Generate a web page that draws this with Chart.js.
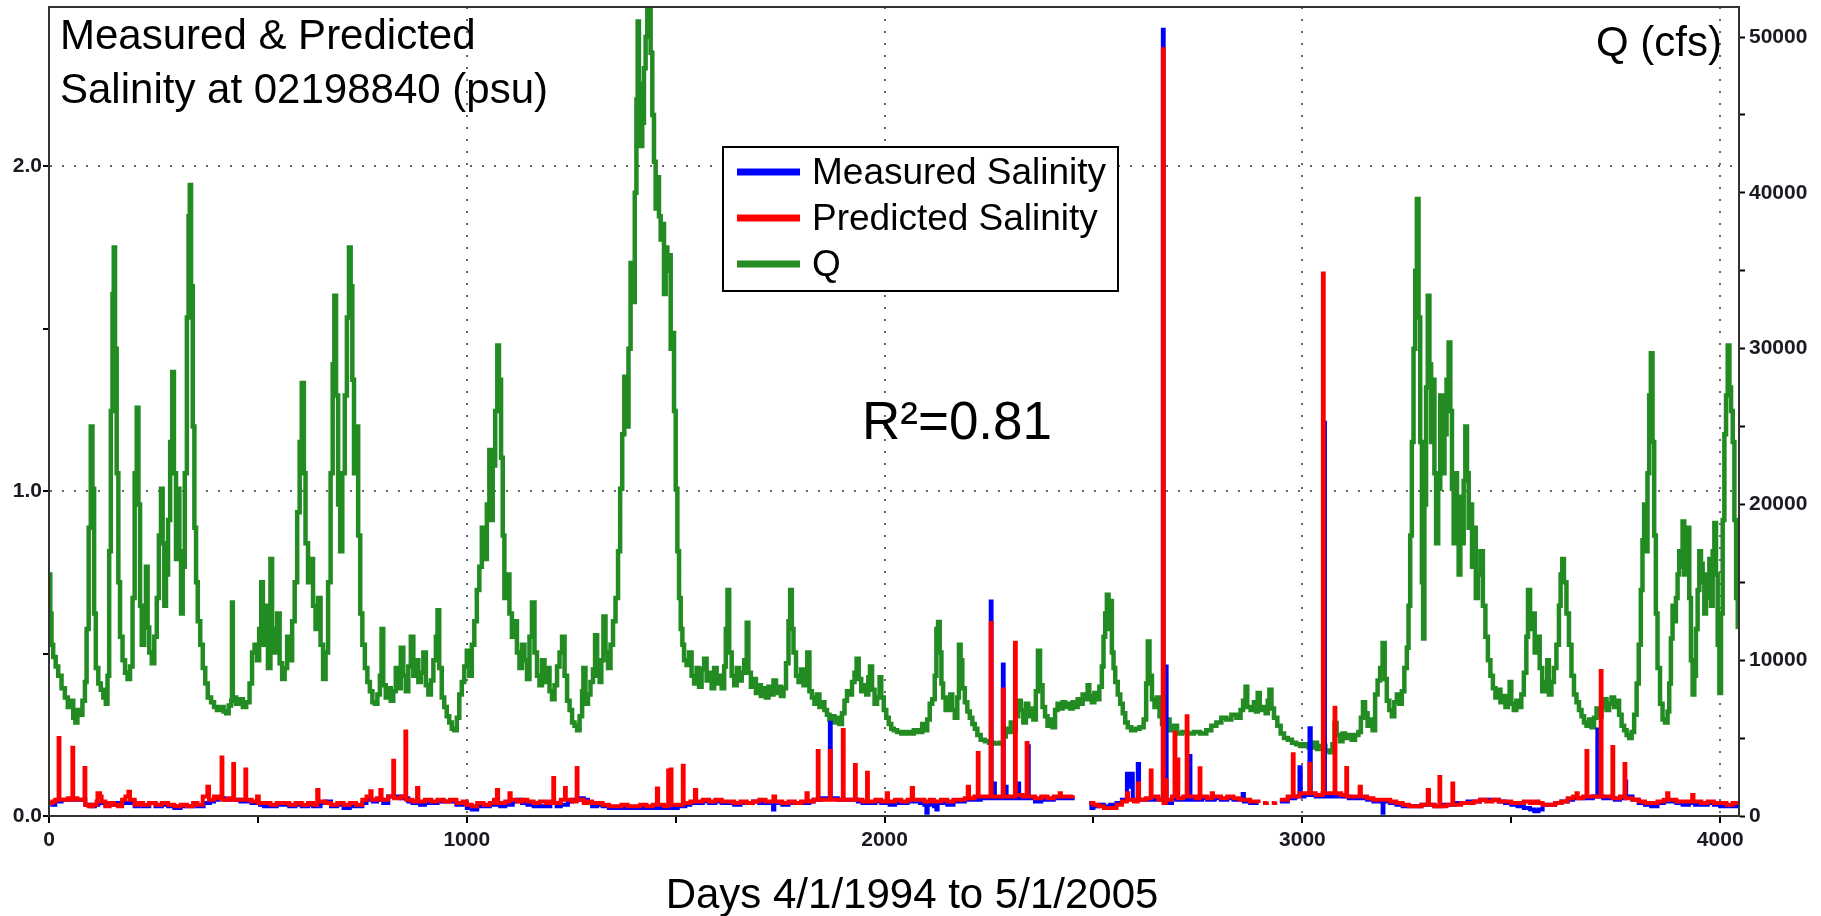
<!DOCTYPE html>
<html>
<head>
<meta charset="utf-8">
<script src="https://cdn.jsdelivr.net/npm/chart.js@4.4.0/dist/chart.umd.min.js"></script>
<style>
  html, body { margin: 0; padding: 0; background: #fff; }
  #wrap { width: 1821px; height: 916px; position: relative; }
</style>
</head>
<body>
<div id="wrap"><canvas id="salChart"></canvas></div>
<script>
// Q (cfs), [day, cfs]
var qFlow = [
  [0,15500],[3,13000],[6,11000],[10,10200],[16,9600],[22,9000],[30,8200],[38,7600],[45,7000],[52,7400],
  [58,6300],[63,6000],[68,6800],[74,6500],[80,7400],[86,8600],[90,12000],[95,18500],[100,25000],[104,21000],
  [108,13000],[112,9500],[118,8500],[124,8100],[130,7600],[136,7200],[140,9000],[144,17000],[148,26000],[152,33500],
  [155,36500],[158,30000],[162,22000],[166,15000],[170,11500],[176,10000],[182,9200],[188,8800],[194,9600],[200,14000],
  [205,22000],[210,26200],[214,20000],[218,13500],[222,11000],[228,12500],[232,16000],[236,12100],[240,10500],[246,9800],
  [252,11500],[258,14000],[263,18000],[268,21000],[272,17500],[276,13500],[280,15500],[285,19000],[290,24000],[295,28500],
  [299,22000],[304,16500],[308,21000],[312,17000],[316,13000],[320,16000],[325,22000],[330,32000],[334,38500],[337,40500],
  [340,34000],[344,25000],[348,18500],[352,15000],[356,12500],[362,11000],[368,9500],[374,8500],[380,7600],[388,7300],
  [395,7000],[402,6800],[410,7000],[418,6700],[424,6600],[430,7100],[436,7400],[438,13700],[440,7600],[448,7200],
  [456,7500],[464,7000],[472,7300],[480,8500],[486,10500],[492,11000],[498,10000],[503,12000],[508,15000],[512,11000],
  [518,13500],[524,9500],[530,16500],[534,12000],[540,10500],[546,13000],[552,9800],[558,8800],[564,9500],[570,11500],
  [576,10000],[582,12500],[588,15000],[594,19500],[600,24000],[605,27800],[610,22000],[614,17500],[620,15000],[626,16500],
  [632,13500],[638,12000],[644,14000],[650,11000],[656,8800],[662,10500],[668,15000],[674,22000],[679,29000],[683,33400],
  [687,27000],[692,20000],[697,17000],[702,22000],[708,27000],[713,32000],[718,36500],[722,34000],[726,28000],[730,22000],
  [735,25000],[740,18000],[745,13000],[750,11000],[756,9500],[762,8600],[768,8000],[774,7300],[780,7200],[786,7800],
  [792,9000],[796,12000],[800,8400],[806,7600],[812,8200],[818,7400],[824,8000],[830,9500],[836,8200],[842,10800],
  [848,9000],[854,8000],[860,9600],[866,11500],[872,9000],[878,10000],[884,8600],[890,9200],[896,10500],[902,8400],
  [908,7800],[914,8700],[920,10000],[926,11500],[930,13200],[934,9500],[940,7600],[946,7000],[952,6400],[958,6000],
  [964,5600],[970,5500],[976,6300],[982,7800],[988,8600],[994,9600],[1000,10600],[1006,9000],[1012,11000],[1018,12500],
  [1024,14500],[1030,16000],[1036,18500],[1042,16500],[1048,20000],[1054,23500],[1058,19000],[1062,22500],[1068,26000],[1073,30200],
  [1077,28000],[1082,23000],[1086,18000],[1090,14000],[1096,15500],[1102,13000],[1108,11500],[1114,12500],[1120,10500],[1126,9500],
  [1132,11000],[1138,10000],[1144,8800],[1150,11500],[1156,13700],[1162,10500],[1168,9000],[1174,8400],[1180,10000],[1186,8600],
  [1192,9500],[1198,8000],[1204,7500],[1210,8400],[1216,9600],[1222,10500],[1228,11500],[1234,9000],[1240,7400],[1246,6800],
  [1252,6000],[1258,5800],[1264,5500],[1270,6400],[1276,8000],[1279,9500],[1284,7200],[1290,7800],[1296,8600],[1302,9400],
  [1307,11600],[1312,9000],[1318,8600],[1322,10000],[1327,12800],[1332,10500],[1338,9500],[1344,11000],[1350,12500],[1356,14000],
  [1362,17000],[1367,21000],[1372,24500],[1377,28200],[1382,25000],[1387,30000],[1392,35500],[1397,33000],[1402,40000],[1406,46000],
  [1409,51000],[1412,47000],[1416,43000],[1420,44500],[1424,48000],[1428,50000],[1432,51900],[1436,51900],[1440,49000],[1444,45000],
  [1448,42000],[1452,39000],[1456,41000],[1460,38500],[1464,37000],[1468,38000],[1472,33500],[1476,36500],[1480,35000],[1484,36000],
  [1488,30000],[1492,31000],[1496,26000],[1500,21000],[1504,17000],[1508,14000],[1512,12000],[1516,11000],[1520,10000],[1526,9700],
  [1532,10500],[1538,9000],[1544,8500],[1550,9500],[1556,8300],[1562,9400],[1568,10100],[1574,8700],[1580,9200],[1586,8200],
  [1592,9500],[1598,8500],[1604,9000],[1610,8200],[1616,9600],[1620,12000],[1624,14500],[1628,10500],[1634,9000],[1640,8400],
  [1646,9500],[1652,8700],[1658,9200],[1664,10000],[1670,12400],[1674,9200],[1680,8300],[1686,8800],[1692,7900],[1698,8400],
  [1704,7700],[1710,8200],[1716,7600],[1722,8300],[1728,7800],[1734,8700],[1740,7900],[1746,8300],[1752,7700],[1758,8200],
  [1764,9800],[1770,12500],[1774,14500],[1778,12000],[1782,10500],[1788,9000],[1794,8600],[1800,9400],[1806,8400],[1812,9200],
  [1815,10500],[1820,8000],[1826,7600],[1832,7200],[1838,7800],[1844,7000],[1850,7300],[1856,6800],[1862,6500],[1868,6200],
  [1874,6400],[1880,6000],[1886,6300],[1892,5900],[1898,6600],[1904,7400],[1910,8000],[1916,7800],[1922,8600],[1928,9200],
  [1933,10100],[1938,8800],[1944,8000],[1950,8400],[1956,7800],[1961,8900],[1965,9600],[1970,8100],[1976,7200],[1982,7600],
  [1988,8900],[1992,7600],[1998,6800],[2004,6300],[2010,5900],[2016,5600],[2022,5500],[2030,5400],[2040,5300],[2050,5400],
  [2060,5300],[2070,5500],[2080,5400],[2090,5900],[2096,5500],[2102,6200],[2108,7200],[2114,7500],[2120,9000],[2124,12000],
  [2128,12450],[2132,10500],[2136,8500],[2140,7600],[2146,6800],[2152,7400],[2157,7800],[2162,6800],[2168,6300],[2174,7600],
  [2178,11000],[2182,10000],[2186,8200],[2192,7300],[2198,6700],[2204,6300],[2210,5900],[2216,5600],[2222,5200],[2230,4900],
  [2240,4800],[2250,4700],[2262,4650],[2276,4700],[2284,5100],[2290,5600],[2296,5400],[2302,6000],[2308,5500],[2314,6400],
  [2320,7400],[2326,6800],[2332,6000],[2338,7200],[2344,6400],[2350,6900],[2356,6200],[2362,8000],[2367,10600],[2372,8400],
  [2378,7000],[2384,6400],[2390,5800],[2396,6200],[2402,5700],[2408,6800],[2414,7200],[2420,6900],[2426,7300],[2432,7000],
  [2438,7200],[2444,6900],[2450,7300],[2456,7000],[2462,7500],[2468,7200],[2474,7800],[2480,7500],[2486,8400],[2490,7700],
  [2496,7300],[2502,7900],[2508,7500],[2514,8300],[2520,9600],[2524,11500],[2528,13000],[2532,14200],[2536,12000],[2540,13800],
  [2544,10500],[2548,9500],[2552,8600],[2558,7800],[2564,7200],[2570,6600],[2576,6000],[2582,5700],[2590,5500],[2600,5600],
  [2610,5700],[2620,6200],[2626,8500],[2630,11200],[2634,9000],[2640,7500],[2646,7000],[2652,7600],[2658,6400],[2664,5900],
  [2670,5600],[2676,6200],[2682,5500],[2690,5800],[2700,5300],[2712,5400],[2725,5300],[2740,5400],[2755,5300],[2770,5500],
  [2782,5800],[2794,6000],[2806,6300],[2818,6200],[2830,6500],[2842,6300],[2852,6800],[2858,7400],[2864,8300],[2868,7000],
  [2876,6800],[2884,7300],[2889,6700],[2893,7900],[2898,6800],[2906,7000],[2912,6600],[2917,7400],[2921,8100],[2926,6900],
  [2932,6300],[2940,5800],[2948,5300],[2956,5000],[2965,4900],[2975,4700],[2985,4600],[2995,4500],[3005,4600],[3015,4400],
  [3025,4700],[3035,4300],[3045,4500],[3055,4200],[3065,4100],[3072,4600],[3077,5970],[3082,5200],[3090,4800],[3096,5300],
  [3102,5000],[3110,5200],[3118,4900],[3126,5200],[3134,5400],[3140,6300],[3145,7300],[3150,6600],[3156,5800],[3162,6200],
  [3168,5500],[3174,7800],[3180,8700],[3186,9500],[3192,11100],[3197,8800],[3202,7400],[3208,6800],[3214,6400],[3220,7300],
  [3226,7800],[3232,7200],[3238,8000],[3244,9500],[3250,10800],[3254,13500],[3258,18000],[3262,24000],[3266,30000],[3270,35000],
  [3274,39600],[3278,32000],[3282,24000],[3286,15000],[3289,11400],[3292,20000],[3296,27500],[3300,33400],[3304,29000],[3308,24000],
  [3312,28000],[3316,22000],[3320,17500],[3325,21000],[3330,27000],[3335,22000],[3340,24500],[3345,28000],[3350,30400],[3354,26000],
  [3358,21000],[3362,17500],[3366,22000],[3370,19000],[3374,15500],[3378,20500],[3382,17500],[3386,21500],[3390,25000],[3394,22000],
  [3398,18500],[3402,20000],[3406,16000],[3410,18500],[3415,14000],[3420,15500],[3426,17000],[3432,13500],[3438,11500],[3444,10000],
  [3450,9000],[3456,8200],[3462,7600],[3468,8100],[3474,7300],[3480,7700],[3486,7000],[3492,7500],[3496,8600],[3500,7200],
  [3506,6800],[3512,7400],[3518,7000],[3524,7800],[3530,9200],[3536,11500],[3540,14500],[3545,12000],[3550,13000],[3556,10500],
  [3562,11500],[3568,9500],[3574,8000],[3580,8600],[3586,10000],[3590,7800],[3596,8600],[3602,9500],[3608,11000],[3614,13500],
  [3618,15500],[3622,16500],[3626,15000],[3632,13000],[3638,11000],[3644,9000],[3650,7800],[3656,7300],[3662,6800],[3668,6400],
  [3674,6000],[3680,5800],[3686,6200],[3692,5700],[3698,6300],[3704,6900],[3710,6400],[3716,7000],[3722,7500],[3728,6800],
  [3734,7200],[3740,7600],[3746,7000],[3752,7400],[3758,6500],[3764,5800],[3770,5500],[3776,5200],[3782,5000],[3788,5400],
  [3794,6500],[3800,8500],[3805,11000],[3810,14500],[3814,17700],[3818,20000],[3822,17000],[3826,22000],[3830,27000],[3834,29700],
  [3838,24000],[3842,18000],[3846,13000],[3850,9500],[3856,7200],[3862,6200],[3868,6000],[3874,6700],[3878,8500],[3882,11400],
  [3886,13500],[3890,12500],[3894,14000],[3898,15500],[3902,17000],[3906,16000],[3910,18900],[3914,15500],[3918,17500],[3922,18500],
  [3926,14000],[3930,10000],[3934,7800],[3938,9000],[3942,12000],[3946,14500],[3950,17000],[3954,16200],[3958,15000],[3962,13000],
  [3966,15500],[3970,14000],[3974,16500],[3978,13500],[3982,17000],[3986,18800],[3990,15500],[3994,11000],[3998,7900],[4002,13000],
  [4006,19000],[4010,24500],[4014,27000],[4018,30200],[4022,27500],[4026,26000],[4030,24000],[4034,19000],[4038,14000],[4042,12000]
];

// measured salinity (psu), [day, psu]; null = no record
var measured = [
  [0,0.04],[8,0.035],[15,0.045],[30,0.05],[45,0.05],[62,0.05],[80,0.05],[87,0.035],[100,0.03],[110,0.035],
  [118,0.04],[135,0.035],[145,0.035],[155,0.04],[165,0.035],[175,0.04],[195,0.045],[205,0.03],[215,0.035],[225,0.03],
  [240,0.04],[255,0.03],[270,0.035],[285,0.03],[300,0.025],[315,0.03],[330,0.03],[345,0.035],[355,0.03],[370,0.04],
  [385,0.045],[395,0.05],[405,0.055],[420,0.05],[430,0.05],[447,0.05],[458,0.045],[476,0.045],[485,0.04],[505,0.035],
  [515,0.03],[530,0.03],[545,0.035],[560,0.035],[575,0.03],[590,0.035],[605,0.03],[620,0.035],[632,0.03],[650,0.04],
  [662,0.045],[675,0.03],[690,0.035],[705,0.025],[720,0.03],[735,0.03],[750,0.04],[760,0.05],[775,0.045],[785,0.05],
  [800,0.04],[812,0.06],[830,0.06],[842,0.055],[860,0.045],[870,0.04],[888,0.035],[900,0.04],[915,0.04],[930,0.045],
  [945,0.045],[960,0.045],[975,0.035],[990,0.04],[1000,0.025],[1012,0.02],[1025,0.03],[1040,0.03],[1055,0.035],[1065,0.035],
  [1080,0.03],[1092,0.035],[1110,0.045],[1120,0.05],[1132,0.04],[1145,0.035],[1160,0.03],[1175,0.03],[1190,0.03],[1200,0.04],
  [1215,0.03],[1225,0.035],[1242,0.045],[1252,0.05],[1270,0.055],[1280,0.05],[1290,0.04],[1300,0.03],[1312,0.035],[1325,0.03],
  [1340,0.025],[1355,0.025],[1370,0.025],[1385,0.025],[1400,0.025],[1415,0.025],[1430,0.025],[1445,0.025],[1462,0.025],[1472,0.025],
  [1492,0.025],[1505,0.03],[1523,0.035],[1535,0.04],[1552,0.04],[1565,0.045],[1580,0.04],[1595,0.045],[1610,0.04],[1625,0.04],
  [1640,0.035],[1655,0.04],[1670,0.04],[1685,0.045],[1700,0.04],[1715,0.04],[1728,0.04],[1733,0.02],[1736,0.04],[1755,0.035],
  [1770,0.04],[1785,0.04],[1800,0.04],[1820,0.045],[1830,0.05],[1848,0.055],[1858,0.055],[1868,0.055],[1869,0.287],[1871,0.055],
  [1888,0.05],[1907,0.05],[1918,0.05],[1936,0.045],[1947,0.04],[1965,0.04],[1978,0.045],[1992,0.04],[2012,0.035],[2025,0.04],
  [2040,0.04],[2055,0.045],[2072,0.045],[2085,0.04],[2095,0.035],[2100,0.01],[2103,0.035],[2108,0.04],[2118,0.03],[2124,0.02],
  [2127,0.04],[2135,0.04],[2150,0.035],[2165,0.045],[2180,0.045],[2192,0.05],[2206,0.05],[2215,0.05],[2230,0.055],[2242,0.055],
  [2253,0.055],[2254,0.66],[2256,0.055],[2262,0.1],[2264,0.055],[2282,0.055],[2283,0.466],[2285,0.055],[2290,0.09],[2292,0.055],
  [2305,0.055],[2320,0.1],[2322,0.055],[2330,0.055],[2342,0.055],[2343,0.215],[2345,0.055],[2360,0.045],[2375,0.05],[2390,0.05],
  [2405,0.055],[2425,0.055],[2440,0.055],[2450,0.06],[2452,null],[2490,0.04],[2495,0.025],[2500,0.03],[2512,0.035],[2525,0.03],
  [2540,0.035],[2555,0.04],[2568,0.05],[2578,0.05],[2580,0.13],[2584,0.09],[2590,0.13],[2594,0.05],[2604,0.05],[2606,0.16],
  [2609,0.05],[2625,0.05],[2645,0.055],[2655,0.05],[2665,0.05],[2666,2.42],[2668,0.04],[2673,0.46],[2675,0.04],[2688,0.055],
  [2698,0.05],[2715,0.05],[2729,0.05],[2730,0.185],[2732,0.05],[2745,0.05],[2760,0.055],[2772,0.05],[2790,0.055],[2805,0.05],
  [2820,0.055],[2835,0.05],[2850,0.05],[2857,0.068],[2860,0.045],[2875,0.04],[2895,0.04],[2900,null],[2906,0.04],[2915,0.04],
  [2920,null],[2927,0.04],[2935,0.04],[2940,null],[2946,0.045],[2955,0.045],[2965,0.055],[2983,0.06],[2991,0.06],[2993,0.15],
  [2996,0.06],[3005,0.065],[3015,0.065],[3017,0.27],[3020,0.065],[3032,0.06],[3051,0.06],[3052,1.21],[3054,0.06],[3065,0.06],
  [3083,0.065],[3093,0.06],[3111,0.055],[3125,0.055],[3143,0.055],[3155,0.05],[3170,0.045],[3185,0.045],[3191,0.045],[3192,0.01],
  [3194,0.045],[3210,0.04],[3225,0.035],[3240,0.03],[3255,0.03],[3270,0.03],[3285,0.035],[3306,0.035],[3316,0.03],[3334,0.035],
  [3345,0.035],[3365,0.04],[3380,0.04],[3395,0.045],[3410,0.045],[3425,0.05],[3440,0.05],[3455,0.05],[3470,0.045],[3485,0.04],
  [3500,0.035],[3515,0.03],[3530,0.025],[3545,0.02],[3555,0.015],[3565,0.02],[3575,0.035],[3590,0.035],[3605,0.04],[3620,0.045],
  [3635,0.05],[3648,0.055],[3662,0.055],[3672,0.055],[3686,0.055],[3695,0.06],[3705,0.06],[3706,0.266],[3708,0.06],[3720,0.055],
  [3730,0.055],[3748,0.05],[3760,0.055],[3770,0.055],[3772,0.106],[3775,0.06],[3790,0.05],[3805,0.04],[3820,0.035],[3835,0.03],
  [3850,0.04],[3865,0.045],[3880,0.045],[3895,0.04],[3910,0.035],[3925,0.04],[3940,0.035],[3955,0.035],[3970,0.04],[3985,0.035],
  [4000,0.03],[4015,0.03],[4030,0.03],[4045,0.03]
];

// predicted salinity (psu), [day, psu]
var predicted = [
  [0,0.04],[8,0.045],[15,0.05],[22,0.05],[23,0.24],[25,0.05],[35,0.05],[45,0.055],[55,0.05],[56,0.21],
  [58,0.055],[68,0.05],[78,0.05],[84,0.05],[85,0.148],[87,0.035],[95,0.03],[105,0.035],[114,0.045],[116,0.07],
  [122,0.06],[126,0.045],[135,0.03],[145,0.04],[155,0.035],[165,0.03],[175,0.05],[183,0.06],[188,0.06],[190,0.075],
  [194,0.05],[205,0.035],[215,0.04],[225,0.035],[240,0.04],[255,0.035],[270,0.04],[285,0.035],[300,0.03],[315,0.035],
  [330,0.03],[345,0.04],[355,0.035],[368,0.06],[376,0.06],[379,0.09],[383,0.05],[395,0.06],[405,0.055],[412,0.055],
  [413,0.18],[415,0.05],[430,0.055],[440,0.05],[441,0.16],[443,0.05],[458,0.05],[469,0.05],[470,0.143],[472,0.05],
  [485,0.045],[497,0.045],[498,0.06],[502,0.04],[515,0.04],[530,0.035],[545,0.04],[560,0.04],[575,0.035],[590,0.04],
  [605,0.035],[620,0.04],[632,0.035],[641,0.035],[642,0.08],[645,0.045],[662,0.04],[675,0.035],[690,0.04],[705,0.035],
  [720,0.04],[735,0.035],[750,0.05],[760,0.06],[768,0.06],[769,0.076],[772,0.05],[785,0.055],[792,0.055],[793,0.08],
  [796,0.05],[812,0.06],[823,0.06],[824,0.17],[826,0.055],[842,0.06],[852,0.06],[853,0.26],[855,0.05],[870,0.045],
  [880,0.045],[881,0.086],[884,0.045],[900,0.05],[915,0.045],[930,0.05],[945,0.045],[960,0.05],[975,0.04],[990,0.045],
  [1000,0.035],[1012,0.03],[1025,0.04],[1040,0.035],[1055,0.04],[1065,0.05],[1071,0.05],[1072,0.08],[1075,0.04],[1092,0.045],
  [1101,0.045],[1102,0.07],[1105,0.05],[1120,0.045],[1132,0.05],[1145,0.045],[1160,0.04],[1175,0.045],[1190,0.04],[1200,0.045],
  [1206,0.045],[1207,0.117],[1209,0.04],[1225,0.05],[1234,0.05],[1235,0.086],[1237,0.05],[1252,0.045],[1262,0.045],[1263,0.148],
  [1265,0.05],[1280,0.04],[1290,0.045],[1300,0.04],[1312,0.04],[1325,0.035],[1340,0.03],[1355,0.03],[1370,0.035],[1385,0.03],
  [1400,0.03],[1415,0.035],[1430,0.03],[1445,0.035],[1454,0.035],[1455,0.085],[1458,0.035],[1472,0.03],[1481,0.03],[1482,0.14],
  [1484,0.035],[1487,0.035],[1488,0.143],[1490,0.035],[1505,0.035],[1516,0.035],[1517,0.155],[1519,0.04],[1535,0.045],[1545,0.045],
  [1546,0.08],[1549,0.045],[1565,0.05],[1580,0.045],[1595,0.05],[1610,0.045],[1625,0.045],[1640,0.04],[1655,0.045],[1670,0.04],
  [1685,0.045],[1700,0.05],[1715,0.045],[1730,0.045],[1734,0.06],[1738,0.045],[1755,0.04],[1770,0.045],[1785,0.04],[1800,0.045],
  [1812,0.045],[1813,0.07],[1816,0.045],[1830,0.05],[1839,0.05],[1840,0.2],[1842,0.05],[1858,0.05],[1868,0.05],[1869,0.2],
  [1871,0.05],[1888,0.05],[1899,0.05],[1900,0.265],[1902,0.05],[1918,0.05],[1928,0.05],[1929,0.157],[1931,0.05],[1947,0.045],
  [1957,0.045],[1958,0.133],[1960,0.045],[1978,0.05],[1992,0.045],[2004,0.045],[2005,0.07],[2008,0.045],[2025,0.05],[2040,0.045],
  [2055,0.05],[2064,0.05],[2065,0.086],[2068,0.05],[2085,0.05],[2095,0.045],[2108,0.05],[2118,0.045],[2135,0.05],[2150,0.045],
  [2165,0.05],[2180,0.05],[2192,0.055],[2198,0.055],[2199,0.09],[2202,0.055],[2215,0.06],[2222,0.06],[2223,0.194],[2225,0.06],
  [2242,0.06],[2253,0.06],[2254,0.594],[2256,0.06],[2270,0.06],[2282,0.06],[2283,0.389],[2285,0.06],[2300,0.06],[2311,0.06],
  [2312,0.533],[2314,0.065],[2330,0.06],[2339,0.06],[2340,0.225],[2342,0.06],[2360,0.055],[2375,0.06],[2390,0.055],[2405,0.06],
  [2418,0.06],[2419,0.07],[2422,0.06],[2440,0.06],[2450,0.065],[2452,null],[2490,0.04],[2500,0.035],[2512,0.03],[2525,0.025],
  [2540,0.025],[2555,0.035],[2568,0.045],[2579,0.045],[2580,0.07],[2583,0.05],[2597,0.045],[2605,0.045],[2606,0.1],[2609,0.05],
  [2625,0.055],[2636,0.055],[2637,0.14],[2639,0.06],[2655,0.05],[2665,0.05],[2666,2.36],[2668,0.04],[2672,0.04],[2673,0.11],
  [2675,0.05],[2688,0.06],[2693,0.06],[2694,0.256],[2696,0.06],[2700,0.06],[2701,0.174],[2703,0.055],[2715,0.06],[2722,0.06],
  [2723,0.307],[2725,0.06],[2745,0.055],[2753,0.055],[2754,0.147],[2756,0.06],[2772,0.055],[2782,0.055],[2783,0.07],[2786,0.06],
  [2805,0.055],[2820,0.06],[2835,0.055],[2850,0.05],[2865,0.05],[2875,0.045],[2895,0.04],[2900,null],[2906,0.04],[2915,0.045],
  [2920,null],[2927,0.04],[2935,0.045],[2940,null],[2946,0.05],[2955,0.05],[2965,0.06],[2976,0.06],[2977,0.19],[2979,0.06],
  [2993,0.07],[3005,0.07],[3016,0.07],[3017,0.16],[3019,0.07],[3032,0.065],[3048,0.07],[3049,1.67],[3051,0.07],[3065,0.07],
  [3076,0.07],[3077,0.333],[3079,0.07],[3093,0.065],[3104,0.065],[3105,0.148],[3107,0.06],[3125,0.06],[3136,0.06],[3137,0.09],
  [3140,0.06],[3155,0.055],[3170,0.05],[3185,0.05],[3198,0.05],[3210,0.045],[3225,0.04],[3240,0.035],[3255,0.03],[3270,0.03],
  [3285,0.035],[3299,0.035],[3300,0.08],[3303,0.035],[3316,0.03],[3327,0.03],[3328,0.12],[3330,0.03],[3345,0.035],[3358,0.035],
  [3359,0.1],[3361,0.035],[3380,0.04],[3395,0.04],[3410,0.045],[3425,0.05],[3440,0.045],[3455,0.05],[3470,0.045],[3485,0.045],
  [3500,0.04],[3515,0.04],[3530,0.045],[3545,0.04],[3555,0.045],[3565,0.04],[3575,0.035],[3590,0.035],[3605,0.04],[3620,0.045],
  [3635,0.055],[3648,0.06],[3655,0.06],[3656,0.07],[3659,0.055],[3672,0.06],[3679,0.06],[3680,0.2],[3682,0.06],[3695,0.06],
  [3710,0.06],[3713,0.06],[3714,0.446],[3716,0.06],[3730,0.06],[3741,0.06],[3742,0.212],[3744,0.055],[3760,0.06],[3770,0.06],
  [3771,0.16],[3773,0.055],[3790,0.05],[3805,0.045],[3820,0.04],[3835,0.04],[3850,0.045],[3865,0.05],[3872,0.05],[3873,0.07],
  [3876,0.05],[3895,0.045],[3910,0.045],[3925,0.045],[3932,0.045],[3933,0.065],[3936,0.045],[3955,0.04],[3970,0.045],[3985,0.04],
  [4000,0.04],[4015,0.035],[4030,0.04],[4045,0.035]
];

var dayTicks = [0, 500, 1000, 1500, 2000, 2500, 3000, 3500, 4000];
var dayLabels = [0, 1000, 2000, 3000, 4000];
var salTicks = [0, 0.5, 1, 1.5, 2];
var salLabels = [0, 1, 2];
var qTicks = [0, 5000, 10000, 15000, 20000, 25000, 30000, 35000, 40000, 45000, 50000];
var qLabels = [0, 10000, 20000, 30000, 40000, 50000];
var titleLines = ['Measured & Predicted', 'Salinity at 02198840 (psu)'];
var xTitle = 'Days 4/1/1994 to 5/1/2005';
var rightTitle = 'Q (cfs)';
var fitNote = 'R\u00B2=0.81';

function toPoints(rows) {
  return rows.map(function (r) { return { x: r[0], y: r[1] }; });
}
function fixedTicks(list) {
  return function (s) { s.ticks = list.map(function (v) { return { value: v }; }); };
}

var tickFont = { family: '"Liberation Sans", Arial, sans-serif', weight: 'bold', size: 21 };
var textFont = '"Liberation Sans", Arial, sans-serif';

var overlay = {
  id: 'overlay',
  afterDraw: function (chart) {
    var ctx = chart.ctx, a = chart.chartArea;
    ctx.save();
    ctx.strokeStyle = '#333';
    ctx.lineWidth = 2;
    ctx.strokeRect(a.left, a.top, a.right - a.left, a.bottom - a.top);

    ctx.fillStyle = '#000';
    ctx.textBaseline = 'alphabetic';
    ctx.font = '42px ' + textFont;
    ctx.textAlign = 'left';
    ctx.fillText(titleLines[0], 60, 49);
    ctx.fillText(titleLines[1], 60, 103);
    ctx.textAlign = 'right';
    ctx.fillText(rightTitle, 1722, 56);
    ctx.textAlign = 'center';
    ctx.fillText(xTitle, 912, 908);
    ctx.textAlign = 'left';
    ctx.font = '53px ' + textFont;
    ctx.fillText(fitNote, 862, 439);

    // legend box
    ctx.fillStyle = '#fff';
    ctx.fillRect(723, 147, 395, 144);
    ctx.strokeStyle = '#000';
    ctx.lineWidth = 2;
    ctx.strokeRect(723, 147, 395, 144);
    var rows = [172, 218, 264];
    ctx.font = '37px ' + textFont;
    chart.data.datasets.forEach(function (ds, i) {
      ctx.strokeStyle = ds.borderColor;
      ctx.lineWidth = 7;
      ctx.beginPath();
      ctx.moveTo(737, rows[i]);
      ctx.lineTo(800, rows[i]);
      ctx.stroke();
      ctx.fillStyle = '#000';
      ctx.fillText(ds.label, 812, rows[i] + 12);
    });
    ctx.restore();
  }
};

new Chart(document.getElementById('salChart').getContext('2d'), {
  type: 'line',
  data: {
    datasets: [{
      label: 'Measured Salinity',
      data: toPoints(measured),
      yAxisID: 'y',
      borderColor: '#0000ff',
      borderWidth: 4,
      order: 1
    }, {
      label: 'Predicted Salinity',
      data: toPoints(predicted),
      yAxisID: 'y',
      borderColor: '#ff0000',
      borderWidth: 4,
      order: 0
    }, {
      label: 'Q',
      data: toPoints(qFlow),
      yAxisID: 'y2',
      borderColor: '#228b22',
      borderWidth: 4.5,
      order: 2
    }]
  },
  options: {
    responsive: true,
    maintainAspectRatio: false,
    animation: false,
    events: [],
    layout: { padding: { top: 7, left: 0, right: 0, bottom: 0 } },
    elements: {
      point: { radius: 0 },
      line: { stepped: true, tension: 0, fill: false }
    },
    plugins: {
      legend: { display: false },
      tooltip: { enabled: false }
    },
    scales: {
      x: {
        type: 'linear',
        min: 0,
        max: 4045,
        afterBuildTicks: fixedTicks(dayTicks),
        ticks: {
          autoSkip: false,
          maxRotation: 0,
          padding: 5,
          font: tickFont,
          color: '#1a1a22',
          callback: function (v) { return dayLabels.indexOf(v) >= 0 ? String(v) : ''; }
        },
        grid: {
          color: function (c) {
            return c.tick && c.tick.value > 0 && dayLabels.indexOf(c.tick.value) >= 0 ? '#666' : 'rgba(0,0,0,0)';
          },
          lineWidth: 2,
          tickColor: '#000',
          tickLength: 7,
          tickWidth: 2
        },
        border: { color: '#000', width: 2, dash: [2, 10] },
        afterFit: function (s) { s.height = 100; s.paddingLeft = 0; s.paddingRight = 0; }
      },
      y: {
        position: 'left',
        min: 0,
        max: 2.49,
        afterBuildTicks: fixedTicks(salTicks),
        ticks: {
          autoSkip: false,
          padding: 1,
          font: tickFont,
          color: '#1a1a22',
          callback: function (v) { return salLabels.indexOf(v) >= 0 ? v.toFixed(1) : ''; }
        },
        grid: {
          color: function (c) {
            return c.tick && c.tick.value > 0 && salLabels.indexOf(c.tick.value) >= 0 ? '#666' : 'rgba(0,0,0,0)';
          },
          lineWidth: 2,
          tickColor: '#000',
          tickLength: 6,
          tickWidth: 2
        },
        border: { color: '#000', width: 2, dash: [2, 10] },
        afterFit: function (s) { s.width = 49; s.paddingTop = 0; s.paddingBottom = 0; }
      },
      y2: {
        position: 'right',
        min: 0,
        max: 51930,
        afterBuildTicks: fixedTicks(qTicks),
        ticks: {
          autoSkip: false,
          padding: 4,
          font: tickFont,
          color: '#1a1a22',
          callback: function (v) { return qLabels.indexOf(v) >= 0 ? String(v) : ''; }
        },
        grid: {
          drawOnChartArea: false,
          tickColor: '#000',
          tickLength: 6,
          tickWidth: 2
        },
        border: { color: '#000', width: 2 },
        afterFit: function (s) { s.width = 82; s.paddingTop = 0; s.paddingBottom = 0; }
      }
    }
  },
  plugins: [overlay]
});
</script>
</body>
</html>
